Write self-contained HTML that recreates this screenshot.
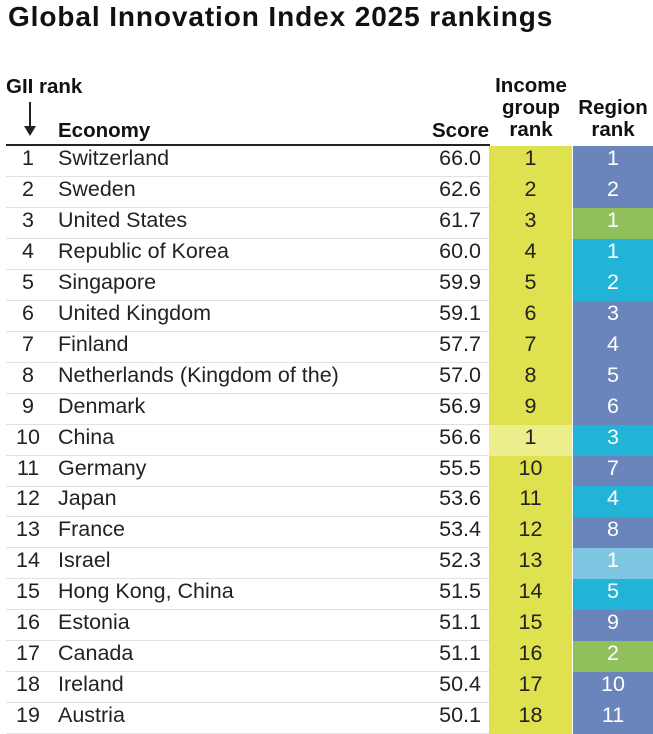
<!DOCTYPE html>
<html><head><meta charset="utf-8"><style>
body{margin:0;width:653px;height:721px;overflow:hidden;background:#fff;font-family:"Liberation Sans",sans-serif;color:#222;position:relative}
.a{position:absolute;white-space:nowrap}
.h{font-weight:bold;font-size:20.5px;color:#111}
.r{position:absolute;left:0;width:653px;height:31px;font-size:21.5px}
.r div{position:absolute;top:0;height:31px;line-height:25px}
</style></head><body>
<div class="a" style="left:8px;top:1px;font-size:28px;font-weight:bold;color:#111;letter-spacing:0.9px">Global Innovation Index 2025 rankings</div>
<div class="a h" style="left:6px;top:75px">GII rank</div>
<div class="a" style="left:20px;top:102px;width:20px;height:36px">
<svg width="20" height="36"><line x1="10" y1="0" x2="10" y2="26" stroke="#222" stroke-width="2"/><polygon points="4,24 16,24 10,34" fill="#222"/></svg></div>
<div class="a h" style="left:58px;top:119px">Economy</div>
<div class="a h" style="left:432px;top:119px">Score</div>
<div class="a h" style="left:489px;top:75px;width:84px;text-align:center;line-height:22px">Income<br>group<br>rank</div>
<div class="a h" style="left:573px;top:97px;width:80px;text-align:center;line-height:22px">Region<br>rank</div>
<div class="a" style="left:6px;top:144px;width:484px;height:2px;background:#222"></div>
<div id="rows"></div>
<script>
const economies=["Switzerland","Sweden","United States","Republic of Korea","Singapore","United Kingdom","Finland","Netherlands (Kingdom of the)","Denmark","China","Germany","Japan","France","Israel","Hong Kong, China","Estonia","Canada","Ireland","Austria"];
const scores=["66.0","62.6","61.7","60.0","59.9","59.1","57.7","57.0","56.9","56.6","55.5","53.6","53.4","52.3","51.5","51.1","51.1","50.4","50.1"];
const incomeRanks=[1,2,3,4,5,6,7,8,9,1,10,11,12,13,14,15,16,17,18];
const incomeGroup=["H","H","H","H","H","H","H","H","H","U","H","H","H","H","H","H","H","H","H"];
const regionRanks=[1,2,1,1,2,3,4,5,6,3,7,4,8,1,5,9,2,10,11];
const regions=["EUR","EUR","NAC","SEAO","SEAO","EUR","EUR","EUR","EUR","SEAO","EUR","SEAO","EUR","NAWA","SEAO","EUR","NAC","EUR","EUR"];
const incCol={H:"#dfe14e",U:"#ecee8c"};
const regCol={EUR:"#6a84bc",NAC:"#8fc05c",SEAO:"#22b4d6",NAWA:"#7fc6e2"};
const c=document.getElementById('rows');
economies.forEach((e,i)=>{
 const r=document.createElement('div');r.className='r';r.style.top=(146+i*30.95)+'px';
 
 
 r.innerHTML=`<div style="left:6px;width:484px;height:30px;border-bottom:1px solid #e2e2e2"></div>
<div style="left:10px;width:36px;text-align:center">${i+1}</div>
<div style="left:58px">${e}</div>
<div style="left:400px;width:81px;text-align:right">${scores[i]}</div>
<div style="left:489px;width:83px;background:${incCol[incomeGroup[i]]};text-align:center;color:#222;line-height:25px">${incomeRanks[i]}</div>
<div style="left:573px;width:80px;background:${regCol[regions[i]]};text-align:center;color:#fff;line-height:25px">${regionRanks[i]}</div>`;
 c.appendChild(r);
});
</script>
</body></html>
